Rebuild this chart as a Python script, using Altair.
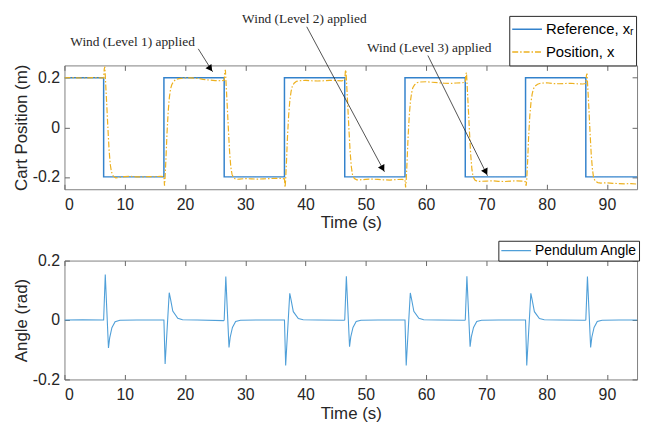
import altair as alt
import pandas as pd

# ---------------- data ----------------
ref_t = [0, 6.5, 16.5, 26.5, 36.5, 46.5, 56.5, 66.5, 76.5, 86.5, 95]
ref_x = [0.2, -0.2, 0.2, -0.2, 0.2, -0.2, 0.2, -0.2, 0.2, -0.2, -0.2]

pos_t = [
    0, 1, 2, 3, 4, 5, 6, 6.5,
    6.6, 6.7, 6.85, 7.0, 7.2, 7.4, 7.6, 7.8, 8.1, 8.5, 9, 10, 11, 12, 13, 14, 15, 16, 16.5,
    16.6, 16.7, 16.85, 17.0, 17.2, 17.4, 17.6, 17.8, 18.1, 18.5, 19, 20, 21, 22, 23, 24, 25, 26, 26.5,
    26.6, 26.7, 26.85, 27.0, 27.2, 27.4, 27.6, 27.8, 28.1, 28.5, 29, 30, 31, 32, 33, 34, 35, 36, 36.5,
    36.6, 36.7, 36.85, 37.0, 37.2, 37.4, 37.6, 37.8, 38.1, 38.5, 39, 40, 41, 42, 43, 44, 45, 46, 46.5,
    46.6, 46.7, 46.85, 47.0, 47.2, 47.4, 47.6, 47.8, 48.1, 48.5, 49, 50, 51, 52, 53, 54, 55, 56, 56.5,
    56.6, 56.7, 56.85, 57.0, 57.2, 57.4, 57.6, 57.8, 58.1, 58.5, 59, 60, 61, 62, 63, 64, 65, 66, 66.5,
    66.6, 66.7, 66.85, 67.0, 67.2, 67.4, 67.6, 67.8, 68.1, 68.5, 69, 70, 71, 72, 73, 74, 75, 76, 76.5,
    76.6, 76.7, 76.85, 77.0, 77.2, 77.4, 77.6, 77.8, 78.1, 78.5, 79, 80, 81, 82, 83, 84, 85, 86, 86.5,
    86.6, 86.7, 86.85, 87.0, 87.2, 87.4, 87.6, 87.8, 88.1, 88.5, 89, 90, 91, 92, 93, 94, 95,
]
pos_x = [
    0.2, 0.201, 0.2, 0.199, 0.2, 0.201, 0.2, 0.2,
    0.235, 0.245, 0.17, 0.1, 0.0, -0.09, -0.15, -0.18, -0.197, -0.204, -0.202, -0.199, -0.198, -0.2, -0.2, -0.199, -0.199, -0.198, -0.199,
    -0.236, -0.2, -0.12, -0.03, 0.06, 0.12, 0.155, 0.172, 0.185, 0.194, 0.197, 0.2, 0.2, 0.198, 0.194, 0.191, 0.189, 0.188, 0.19,
    0.225, 0.232, 0.16, 0.09, -0.01, -0.1, -0.16, -0.19, -0.205, -0.21, -0.209, -0.207, -0.208, -0.209, -0.208, -0.207, -0.206, -0.206, -0.208,
    -0.243, -0.21, -0.13, -0.04, 0.05, 0.11, 0.145, 0.165, 0.178, 0.186, 0.188, 0.19, 0.188, 0.187, 0.188, 0.19, 0.189, 0.188, 0.19,
    0.225, 0.232, 0.16, 0.09, -0.01, -0.1, -0.16, -0.193, -0.207, -0.212, -0.212, -0.21, -0.209, -0.21, -0.212, -0.213, -0.211, -0.21, -0.212,
    -0.243, -0.212, -0.135, -0.045, 0.045, 0.105, 0.14, 0.16, 0.172, 0.18, 0.183, 0.184, 0.182, 0.18, 0.178, 0.177, 0.179, 0.18, 0.182,
    0.215, 0.221, 0.15, 0.08, -0.02, -0.11, -0.17, -0.2, -0.213, -0.218, -0.218, -0.217, -0.216, -0.218, -0.219, -0.217, -0.216, -0.217, -0.22,
    -0.236, -0.21, -0.135, -0.045, 0.045, 0.1, 0.135, 0.155, 0.167, 0.174, 0.178, 0.18, 0.177, 0.176, 0.177, 0.178, 0.176, 0.175, 0.177,
    0.21, 0.217, 0.15, 0.08, -0.02, -0.11, -0.17, -0.205, -0.218, -0.223, -0.225, -0.224, -0.226, -0.227, -0.228, -0.227, -0.229,
]

ang_t = [
    0, 3, 6.4,
    6.5, 6.77, 7.3, 7.5, 7.87, 8.4, 9.2, 12, 16.4,
    16.5, 16.7, 17.38, 17.6, 17.97, 18.8, 19.6, 22, 26.4,
    26.5, 26.77, 27.3, 27.5, 27.87, 28.4, 29.2, 32, 36.4,
    36.5, 36.7, 37.38, 37.6, 37.97, 38.8, 39.6, 42, 46.4,
    46.5, 46.77, 47.3, 47.5, 47.87, 48.4, 49.2, 52, 56.4,
    56.5, 56.7, 57.38, 57.6, 57.97, 58.8, 59.6, 62, 66.4,
    66.5, 66.77, 67.3, 67.5, 67.87, 68.4, 69.2, 72, 76.4,
    76.5, 76.7, 77.38, 77.6, 77.97, 78.8, 79.6, 82, 86.4,
    86.5, 86.77, 87.3, 87.5, 87.87, 88.4, 89.2, 92, 95,
]
ang_v = [
    0, 0.001, 0,
    0, 0.153, -0.094, -0.06, -0.026, -0.006, -0.001, 0, 0,
    0, -0.148, 0.092, 0.07, 0.03, 0.006, 0.001, 0, -0.002,
    0, 0.146, -0.092, -0.058, -0.025, -0.005, -0.001, 0, 0,
    0, -0.153, 0.09, 0.068, 0.028, 0.005, 0.001, 0, -0.001,
    0, 0.147, -0.09, -0.057, -0.025, -0.005, -0.001, 0, 0,
    0, -0.153, 0.091, 0.069, 0.029, 0.006, 0.001, 0, -0.001,
    0, 0.147, -0.09, -0.057, -0.025, -0.005, -0.001, 0, 0,
    0, -0.153, 0.09, 0.068, 0.028, 0.005, 0.001, 0, -0.001,
    0, 0.146, -0.092, -0.058, -0.025, -0.005, -0.001, 0, 0,
]

ann_text = ["Wind (Level 1) applied", "Wind (Level 2) applied", "Wind (Level 3) applied"]
ann_tx = [11.3, 39.8, 60.5]
ann_ty = [0.345, 0.438, 0.321]
arr_x0 = [22.2, 40.2, 60.3]
arr_y0 = [0.317, 0.406, 0.29]
arr_x1 = [24.6, 53.1, 70.2]
arr_y1 = [0.224, -0.18, -0.196]
head_x = [24.2, 52.8, 69.9]
head_y = [0.237, -0.166, -0.18]
head_ang = [144, 151, 153]

series_names = ["Reference, x\u1d63", "Position, x"]
angle_name = "Pendulum Angle"

# ---------------- frames ----------------
ref_df = pd.DataFrame({"t": ref_t, "v": ref_x, "s": series_names[0]})
pos_df = pd.DataFrame({"t": pos_t, "v": pos_x, "s": series_names[1]})
ang_df = pd.DataFrame({"t": ang_t, "v": ang_v, "s": angle_name})
txt_df = pd.DataFrame({"t": ann_tx, "v": ann_ty, "label": ann_text})
arr_df = pd.DataFrame({"t": arr_x0, "v": arr_y0, "t2": arr_x1, "v2": arr_y1})
head_df = pd.DataFrame({"t": head_x, "v": head_y, "a": head_ang})

FONT = "Liberation Sans"
GRAY = "#262626"
TICK = "#666666"
W = 578
xticks = [0, 10, 20, 30, 40, 50, 60, 70, 80, 90]

common = dict(labelFont=FONT, titleFont=FONT, labelFontSize=16, titleFontSize=17,
              labelColor=GRAY, titleColor=GRAY, titleFontWeight="normal",
              tickColor=TICK, tickSize=5, domain=False, grid=False, offset=-5)

def x_main():
    return alt.Axis(orient="bottom", values=xticks, labelPadding=7, titlePadding=3,
                    title="Time (s)", **common)

def x_top():
    return alt.Axis(orient="top", values=xticks, labels=False, title="", **common)

def y_left(title, vals):
    return alt.Axis(orient="left", values=vals, labelExpr="toString(datum.value)",
                    labelPadding=5, titlePadding=2, title=title, **common)

def y_right(vals):
    return alt.Axis(orient="right", values=vals, labels=False, title="", **common)

xs = alt.Scale(domain=[0, 95], nice=False)
ys_top = alt.Scale(domain=[-0.25, 0.25], nice=False)
ys_bot = alt.Scale(domain=[-0.2, 0.2], nice=False)
yvals = [-0.2, 0, 0.2]

color_top = alt.Scale(domain=series_names, range=["#3382cc", "#EDB120"])
dash_top = alt.Scale(domain=series_names, range=[[1, 0], [6, 2, 1.5, 2]])
leg_top = alt.Legend(title=None, orient="none", legendX=449, legendY=-50,
                     symbolType="stroke", symbolSize=900, symbolStrokeWidth=1.5,
                     labelFont=FONT, labelFontSize=15, labelColor="#000000",
                     labelOffset=3, padding=2, rowPadding=0, clipHeight=23,
                     strokeColor=GRAY, fillColor="white", cornerRadius=0)

ref_layer = alt.Chart(ref_df).mark_line(interpolate="step-after", strokeWidth=1.5, clip=True).encode(
    x=alt.X("t:Q", scale=xs, axis=x_main()),
    y=alt.Y("v:Q", scale=ys_top, axis=y_left("Cart Position (m)", yvals)),
    color=alt.Color("s:N", scale=color_top, legend=leg_top),
    strokeDash=alt.StrokeDash("s:N", scale=dash_top, legend=leg_top),
)
pos_layer = alt.Chart(pos_df).mark_line(strokeWidth=1.2, clip=True).encode(
    x=alt.X("t:Q", scale=xs, axis=x_top()),
    y=alt.Y("v:Q", scale=ys_top, axis=y_right(yvals)),
    color=alt.Color("s:N", scale=color_top, legend=leg_top),
    strokeDash=alt.StrokeDash("s:N", scale=dash_top, legend=leg_top),
)
txt_layer = alt.Chart(txt_df).mark_text(font="Liberation Serif", fontSize=13.5, color=GRAY, clip=False).encode(
    x=alt.X("t:Q", scale=xs, axis=None),
    y=alt.Y("v:Q", scale=ys_top, axis=None),
    text="label:N",
)
arr_layer = alt.Chart(arr_df).mark_rule(color=GRAY, strokeWidth=0.8, clip=False).encode(
    x=alt.X("t:Q", scale=xs, axis=None),
    y=alt.Y("v:Q", scale=ys_top, axis=None),
    x2="t2:Q",
    y2="v2:Q",
)
head_layer = alt.Chart(head_df).mark_point(shape="triangle-up", filled=True, size=55, color="#000000",
                                           opacity=1, clip=False).encode(
    x=alt.X("t:Q", scale=xs, axis=None),
    y=alt.Y("v:Q", scale=ys_top, axis=None),
    angle=alt.Angle("a:Q", scale=None),
)

top = alt.layer(ref_layer, pos_layer, txt_layer, arr_layer, head_layer).resolve_axis(
    x="independent", y="independent").properties(width=W, height=125)

leg_bot = alt.Legend(title=None, orient="none", legendX=438, legendY=-20,
                     symbolType="stroke", symbolSize=900, symbolStrokeWidth=1.2,
                     labelFont=FONT, labelFontSize=14, labelColor="#000000",
                     labelOffset=3, padding=2, rowPadding=0, clipHeight=16,
                     strokeColor=GRAY, fillColor="white", cornerRadius=0)

ang_layer = alt.Chart(ang_df).mark_line(strokeWidth=1.1, clip=True).encode(
    x=alt.X("t:Q", scale=xs, axis=x_main()),
    y=alt.Y("v:Q", scale=ys_bot, axis=y_left("Angle (rad)", yvals)),
    color=alt.Color("s:N", scale=alt.Scale(domain=[angle_name], range=["#4f9fd8"]), legend=leg_bot),
)
ang_frame = alt.Chart(ang_df).mark_line(strokeOpacity=0).encode(
    x=alt.X("t:Q", scale=xs, axis=x_top()),
    y=alt.Y("v:Q", scale=ys_bot, axis=y_right(yvals)),
)
bottom = alt.layer(ang_layer, ang_frame).resolve_axis(
    x="independent", y="independent").properties(width=W, height=120)

chart = alt.vconcat(top, bottom, spacing=8).resolve_scale(
    color="independent", strokeDash="independent", x="independent", y="independent"
).resolve_legend(color="independent", strokeDash="independent").properties(
    padding={"left": 3, "top": 1, "right": 2, "bottom": 0},
    background="white",
).configure_view(stroke="#808080", strokeWidth=1)

chart.save("out.html", embed_options={"renderer": "svg", "actions": False})
